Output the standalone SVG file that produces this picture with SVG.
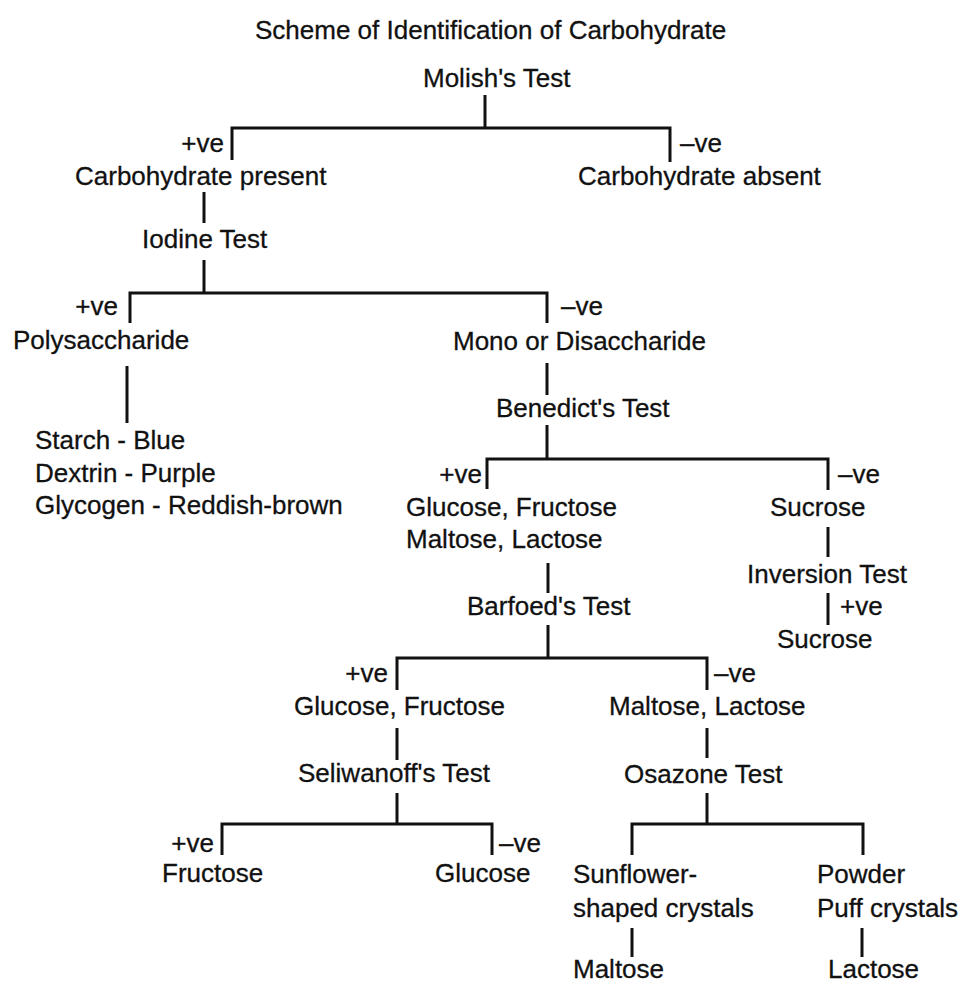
<svg xmlns="http://www.w3.org/2000/svg" width="966" height="985" viewBox="0 0 966 985">
<style>
text{font-family:"Liberation Sans",Arial,Helvetica,sans-serif;font-size:26px;fill:#111;stroke:#111;stroke-width:0.3;}
.r{text-anchor:end;}
#connectors path{fill:none;stroke:#111;stroke-width:3;stroke-linecap:butt;stroke-linejoin:miter;}
</style>
<rect width="966" height="985" fill="#fff"/>
<g id="title"><text x="255" y="39">Scheme of Identification of Carbohydrate</text></g>
<g id="connectors">
<path d="M485 95V128M232 160V128H670V162"/>
<path d="M204 192V223M204 260V293M130 323V293H547V323"/>
<path d="M127 366V423"/>
<path d="M547 363V395M547 425V459M487 489V459H828V490"/>
<path d="M828 527V557M828 593V625"/>
<path d="M548 563V593M548 625V658M397 690V658H707V690"/>
<path d="M397 728V760M397 793V824M222 855V824H492V855"/>
<path d="M707 728V758M707 793V824M632 855V824H863V855"/>
<path d="M632 928V957M862 928V957"/>
</g>
<g id="molish"><text x="423" y="87">Molish's Test</text></g>
<g id="lbl1"><text class="r" x="224" y="152">+ve</text><text x="680" y="152">–ve</text></g>
<g id="carb-present"><text x="75" y="185">Carbohydrate present</text></g>
<g id="carb-absent"><text x="578" y="185">Carbohydrate absent</text></g>
<g id="iodine"><text x="142" y="248">Iodine Test</text></g>
<g id="lbl2"><text class="r" x="118" y="315">+ve</text><text x="561" y="315">–ve</text></g>
<g id="poly"><text x="13" y="349">Polysaccharide</text></g>
<g id="colors"><text x="35" y="449">Starch - Blue</text><text x="35" y="482">Dextrin - Purple</text><text x="35" y="514">Glycogen - Reddish-brown</text></g>
<g id="mono"><text x="453" y="350">Mono or Disaccharide</text></g>
<g id="benedict"><text x="496" y="417">Benedict's Test</text></g>
<g id="lbl3"><text class="r" x="482" y="483">+ve</text><text x="838" y="483">–ve</text></g>
<g id="reducing"><text x="406" y="516">Glucose, Fructose</text><text x="406" y="548">Maltose, Lactose</text></g>
<g id="sucrose1"><text x="770" y="516">Sucrose</text></g>
<g id="inversion"><text x="747" y="583">Inversion Test</text></g>
<g id="lbl-inv"><text x="840" y="615">+ve</text></g>
<g id="sucrose2"><text x="777" y="648">Sucrose</text></g>
<g id="barfoed"><text x="467" y="615">Barfoed's Test</text></g>
<g id="lbl4"><text class="r" x="388" y="682">+ve</text><text x="714" y="682">–ve</text></g>
<g id="mono-gf"><text x="294" y="715">Glucose, Fructose</text></g>
<g id="di-ml"><text x="609" y="715">Maltose, Lactose</text></g>
<g id="seliwanoff"><text x="298" y="782">Seliwanoff's Test</text></g>
<g id="osazone"><text x="624" y="783">Osazone Test</text></g>
<g id="lbl5"><text class="r" x="214" y="852">+ve</text><text x="499" y="852">–ve</text></g>
<g id="fructose"><text x="162" y="882">Fructose</text></g>
<g id="glucose"><text x="435" y="882">Glucose</text></g>
<g id="sunflower"><text x="573" y="883">Sunflower-</text><text x="573" y="917">shaped crystals</text></g>
<g id="powder"><text x="817" y="883">Powder</text><text x="817" y="917">Puff crystals</text></g>
<g id="maltose"><text x="573" y="978">Maltose</text></g>
<g id="lactose"><text x="828" y="978">Lactose</text></g>
</svg>
